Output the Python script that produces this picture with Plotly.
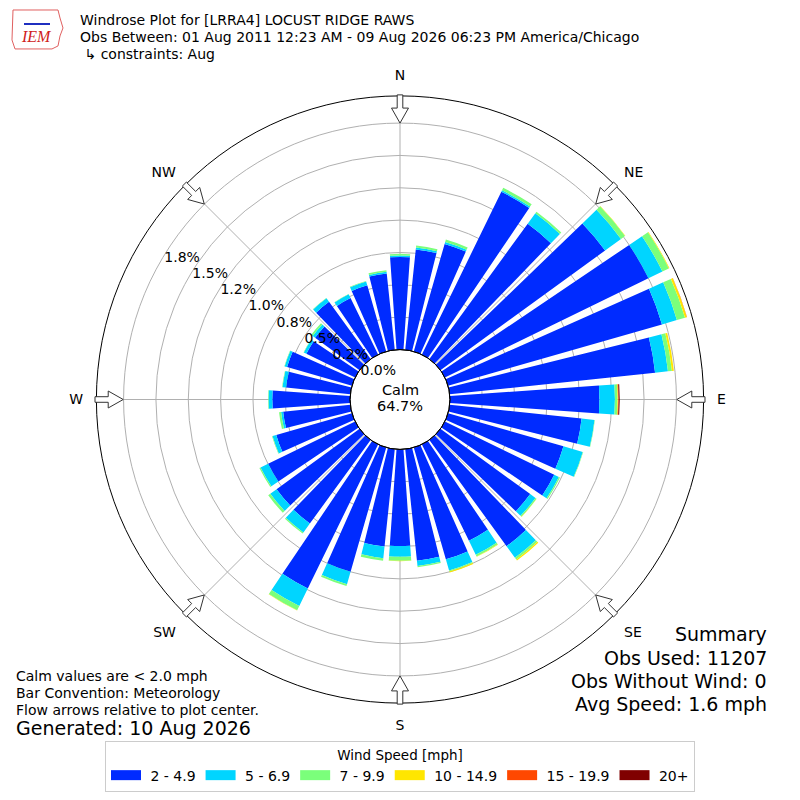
import numpy as np
import plotly.graph_objects as go

# wind directions (deg, meteorological) and frequency (%) per speed bin
directions = list(range(0, 360, 10))
speed_bins = ["2 - 4.9", "5 - 6.9", "7 - 9.9", "10 - 14.9", "15 - 19.9", "20+"]
bin_colors = ["#002bff", "#00d5ff", "#7bff7b", "#ffe600", "#ff4800", "#800000"]

spd_2_5 = [0.715, 0.780, 0.865, 1.400, 1.293, 1.573, 1.750, 1.720, 1.596, 1.155, 1.025, 0.928,
           0.940, 0.858, 1.015, 0.829, 0.899, 0.867, 0.746, 0.757, 0.999, 1.239, 0.799, 0.793,
           0.748, 0.609, 0.522, 0.601, 0.499, 0.522, 0.419, 0.425, 0.547, 0.486, 0.532, 0.594]
spd_5_7 = [0.012, 0.015, 0.015, 0.012, 0.100, 0.152, 0.120, 0.120, 0.100, 0.120, 0.100, 0.155,
           0.040, 0.050, 0.110, 0.120, 0.090, 0.040, 0.084, 0.090, 0.100, 0.150, 0.085, 0.060,
           0.065, 0.030, 0.016, 0.029, 0.028, 0.019, 0.022, 0.023, 0.033, 0.032, 0.031, 0.012]
spd_7_10 = [0.013, 0.015, 0.020, 0.022, 0.015, 0.038, 0.055, 0.065, 0.031, 0.020, 0.003, 0.004,
            0.010, 0.010, 0.017, 0.015, 0.008, 0.010, 0.031, 0.019, 0.015, 0.037, 0.010, 0.020,
            0.010, 0.004, 0.016, 0.004, 0.003, 0.003, 0.003, 0.015, 0.004, 0.003, 0.004, 0.013]
spd_10_15 = [0, 0, 0, 0, 0, 0.003, 0.005, 0.015, 0.015, 0.005, 0, 0,
             0, 0.002, 0.010, 0.003, 0.008, 0, 0.002, 0, 0, 0.003, 0, 0,
             0, 0, 0, 0, 0, 0, 0, 0, 0, 0, 0, 0]
spd_15_20 = [0, 0, 0, 0, 0, 0, 0, 0.002, 0, 0.004, 0, 0,
             0, 0, 0, 0, 0, 0, 0, 0, 0, 0, 0, 0,
             0, 0, 0, 0, 0, 0, 0, 0, 0, 0, 0, 0]
spd_20_up = [0, 0, 0, 0, 0, 0, 0, 0, 0, 0.008, 0, 0,
             0, 0, 0, 0, 0, 0, 0, 0, 0, 0, 0, 0,
             0, 0, 0, 0, 0, 0, 0, 0, 0, 0, 0, 0]

r_ticks = [0, 0.25, 0.5, 0.75, 1.0, 1.25, 1.5, 1.75]
r_ticktext = ["0.0%", "0.2%", "0.5%", "0.8%", "1.0%", "1.2%", "1.5%", "1.8%"]
compass = ["N", "NE", "E", "SE", "S", "SW", "W", "NW"]
calm_pct = 64.7

# layout geometry: reference pixels, page has an 8px body margin
OFF = 8
W = H = 784
CX, CY = 400, 400
R_OUT = 304
R_HOLE = 50
R_MAX = 1.96


def px(x, y):
    return (x - OFF) / W, 1 - (y - OFF) / H


fig = go.Figure()
series = [spd_2_5, spd_5_7, spd_7_10, spd_10_15, spd_15_20, spd_20_up]
for name, vals, col in zip(speed_bins, series, bin_colors):
    fig.add_trace(go.Barpolar(r=vals, theta=directions, width=8, name=name, showlegend=False,
                              marker=dict(color=col, line=dict(width=0))))
# legend entries drawn as flat colour patches
for name, col in zip(speed_bins, bin_colors):
    fig.add_trace(go.Scatterpolar(r=[None], theta=[None], mode="lines", name=" " + name,
                                  line=dict(color=col, width=10)))

# hollow flow arrows pointing to center, at the 8 compass points
scale = (R_OUT - R_HOLE) / R_MAX
r_tip = R_HOLE + 1.75 * scale
r_tail = R_OUT + 1
r_base = r_tip + 15
shapes = []
for i in range(8):
    a = np.radians(i * 45)
    ux, uy = np.sin(a), -np.cos(a)      # outward unit (screen)
    vx, vy = -uy, ux                    # perpendicular
    pts = [(r_tip, 0), (r_base, 8.5), (r_base, 2.8), (r_tail, 2.8),
           (r_tail, -2.8), (r_base, -2.8), (r_base, -8.5)]
    path = ""
    for k, (rr, ww) in enumerate(pts):
        x, y = px(CX + ux * rr + vx * ww, CY + uy * rr + vy * ww)
        path += ("M" if k == 0 else "L") + f"{x:.5f},{y:.5f} "
    shapes.append(dict(type="path", path=path + "Z", xref="paper", yref="paper",
                       fillcolor="white", line=dict(color="#333333", width=1)))

# calm circle outline
x0, y0 = px(CX - R_HOLE, CY + R_HOLE)
x1, y1 = px(CX + R_HOLE, CY - R_HOLE)
shapes.append(dict(type="circle", xref="paper", yref="paper", x0=x0, y0=y0, x1=x1, y1=y1,
                   line=dict(color="black", width=1)))

# rough IEM logo outline
logo = [(13, 10), (58, 10), (60, 18), (63, 28), (60, 36), (58, 46), (52, 49), (15, 49), (12, 40), (13, 10)]
lp = "M" + " L".join(f"{px(x, y)[0]:.5f},{px(x, y)[1]:.5f}" for x, y in logo)
shapes.append(dict(type="path", path=lp, xref="paper", yref="paper",
                   line=dict(color="#e06060", width=1)))
bx0, by0 = px(24, 24)
bx1, by1 = px(50, 24)
shapes.append(dict(type="line", xref="paper", yref="paper", x0=bx0, y0=by0, x1=bx1, y1=by1,
                   line=dict(color="#1f2fc0", width=2)))


def label(text, x, y, size=13, xanchor="left", yanchor="middle", **kw):
    xx, yy = px(x, y)
    return dict(text=text, x=xx, y=yy, xref="paper", yref="paper", showarrow=False,
                xanchor=xanchor, yanchor=yanchor, font=dict(size=size, **kw))


annotations = [
    label("Windrose Plot for [LRRA4] LOCUST RIDGE RAWS", 78, 20, size=14),
    label("Obs Between: 01 Aug 2011 12:23 AM - 09 Aug 2026 06:23 PM America/Chicago", 78, 37, size=14),
    label(" ↳ constraints: Aug", 78, 54, size=14),
    label("<i>IEM</i>", 36, 37, size=16, xanchor="center", color="#d02020", family="Liberation Serif"),
    label("Calm", CX, 390, size=14.5, xanchor="center"),
    label(f"{calm_pct}%", CX, 407, size=14.5, xanchor="center"),
    label("Calm values are < 2.0 mph", 14, 677, size=14),
    label("Bar Convention: Meteorology", 14, 694, size=14),
    label("Flow arrows relative to plot center.", 14, 711, size=14),
    label("Generated: 10 Aug 2026", 14, 729, size=19),
    label("Summary", 769, 635, size=19, xanchor="right"),
    label("Obs Used: 11207", 769, 659, size=19, xanchor="right"),
    label("Obs Without Wind: 0", 769, 682, size=19, xanchor="right"),
    label("Avg Speed: 1.6 mph", 769, 705, size=19, xanchor="right"),
]

d0, _ = px(CX - R_OUT, 0)
d1, _ = px(CX + R_OUT, 0)
fig.update_layout(
    width=W, height=H,
    margin=dict(l=0, r=0, t=0, b=0),
    paper_bgcolor="white",
    font=dict(family="DejaVu Sans", size=13, color="black"),
    polar=dict(
        domain=dict(x=[d0, d1], y=[d0, d1]),
        hole=R_HOLE / R_OUT,
        bgcolor="white",
        barmode="stack",
        radialaxis=dict(range=[0, R_MAX], tickvals=r_ticks, ticktext=r_ticktext,
                        angle=150, tickangle=150, side="clockwise", showline=False, ticks="",
                        gridcolor="#b0b0b0", gridwidth=1, layer="above traces",
                        tickfont=dict(size=14)),
        angularaxis=dict(direction="clockwise", rotation=90,
                         tickmode="array", tickvals=[i * 45 for i in range(8)], ticktext=compass,
                         showline=True, linecolor="black", linewidth=1,
                         ticks="outside", ticklen=10, tickcolor="rgba(0,0,0,0)",
                         gridcolor="#b0b0b0", gridwidth=1, layer="above traces",
                         tickfont=dict(size=14)),
    ),
    legend=dict(orientation="h", x=px(400, 0)[0], xanchor="center", y=px(0, 742)[1], yanchor="top",
                bordercolor="#cccccc", borderwidth=1, font=dict(size=14),
                title=dict(text="Wind Speed [mph]", side="top center", font=dict(size=13.5))),
    shapes=shapes,
    annotations=annotations,
)

fig.write_html("out.html")
